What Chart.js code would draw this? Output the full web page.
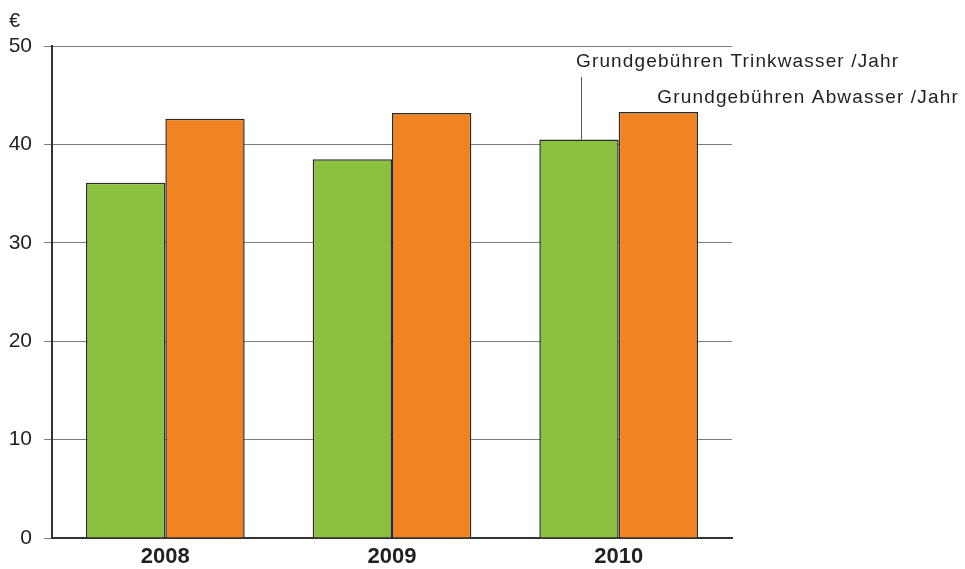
<!DOCTYPE html>
<html>
<head>
<meta charset="utf-8">
<script src="https://cdn.jsdelivr.net/npm/chart.js@4"></script>
<style>
  html, body { margin: 0; padding: 0; background: #fff; }
  #wrap { width: 965px; height: 569px; position: relative; }
</style>
</head>
<body>
<div id="wrap"><canvas id="chart"></canvas></div>
<script>
const years = ['2008', '2009', '2010'];
const trinkwasser = [36.1, 38.5, 40.5];
const abwasser = [42.6, 43.2, 43.3];
const seriesNames = ['Grundgebühren Trinkwasser /Jahr', 'Grundgebühren Abwasser /Jahr'];
const unitLabel = '€';

const FONT = '"Liberation Sans", Arial, Helvetica, sans-serif';
const TEXT = '#231f20';

// labels on the 2010 bars plus the euro sign above the axis
const labelPlugin = {
    id: 'seriesLabels',
    afterDraw(chart) {
        const ctx = chart.ctx;
        const area = chart.chartArea;
        const green = chart.getDatasetMeta(0).data[2];
        const orange = chart.getDatasetMeta(1).data[2];
        ctx.save();
        ctx.fillStyle = TEXT;
        ctx.font = '19px ' + FONT;
        ctx.letterSpacing = '1.15px';
        ctx.textBaseline = 'middle';
        ctx.textAlign = 'left';
        ctx.fillText(seriesNames[0], green.x - 3, area.top + 16);
        ctx.fillText(seriesNames[1], orange.x - 1, area.top + 52);

        ctx.strokeStyle = '#555';
        ctx.lineWidth = 1;
        ctx.beginPath();
        ctx.moveTo(green.x + 2.5, area.top + 31);
        ctx.lineTo(green.x + 2.5, green.y);
        ctx.stroke();

        ctx.letterSpacing = '0px';
        ctx.font = '20px ' + FONT;
        ctx.fillText(unitLabel, 9, area.top - 25);
        ctx.restore();
    }
};

new Chart(document.getElementById('chart'), {
    type: 'bar',
    data: {
        labels: years,
        datasets: [
            {
                label: seriesNames[0],
                data: trinkwasser,
                backgroundColor: '#8cc13f',
                borderColor: '#2a2a2a',
                borderWidth: 1.5
            },
            {
                label: seriesNames[1],
                data: abwasser,
                backgroundColor: '#f28322',
                borderColor: '#2a2a2a',
                borderWidth: 1.5
            }
        ]
    },
    options: {
        responsive: true,
        maintainAspectRatio: false,
        animation: false,
        datasets: { bar: { categoryPercentage: 0.7, barPercentage: 1.0 } },
        layout: { padding: { left: 0, top: 46, right: 233, bottom: 0 } },
        plugins: {
            legend: { display: false },
            tooltip: { enabled: false }
        },
        scales: {
            x: {
                grid: { display: false },
                border: { color: '#333', width: 2 },
                ticks: {
                    color: TEXT,
                    font: { family: FONT, size: 22, weight: 'bold' },
                    padding: -2
                },
                afterFit: s => { s.height = 31; }
            },
            y: {
                min: 0,
                max: 50,
                ticks: {
                    stepSize: 10,
                    color: TEXT,
                    font: { family: FONT, size: 21 },
                    padding: 12
                },
                grid: {
                    color: '#7a7a7a',
                    lineWidth: 1,
                    tickLength: 8
                },
                border: { color: '#333', width: 2 },
                afterFit: s => { s.width = 52; }
            }
        }
    },
    plugins: [labelPlugin]
});
</script>
</body>
</html>
